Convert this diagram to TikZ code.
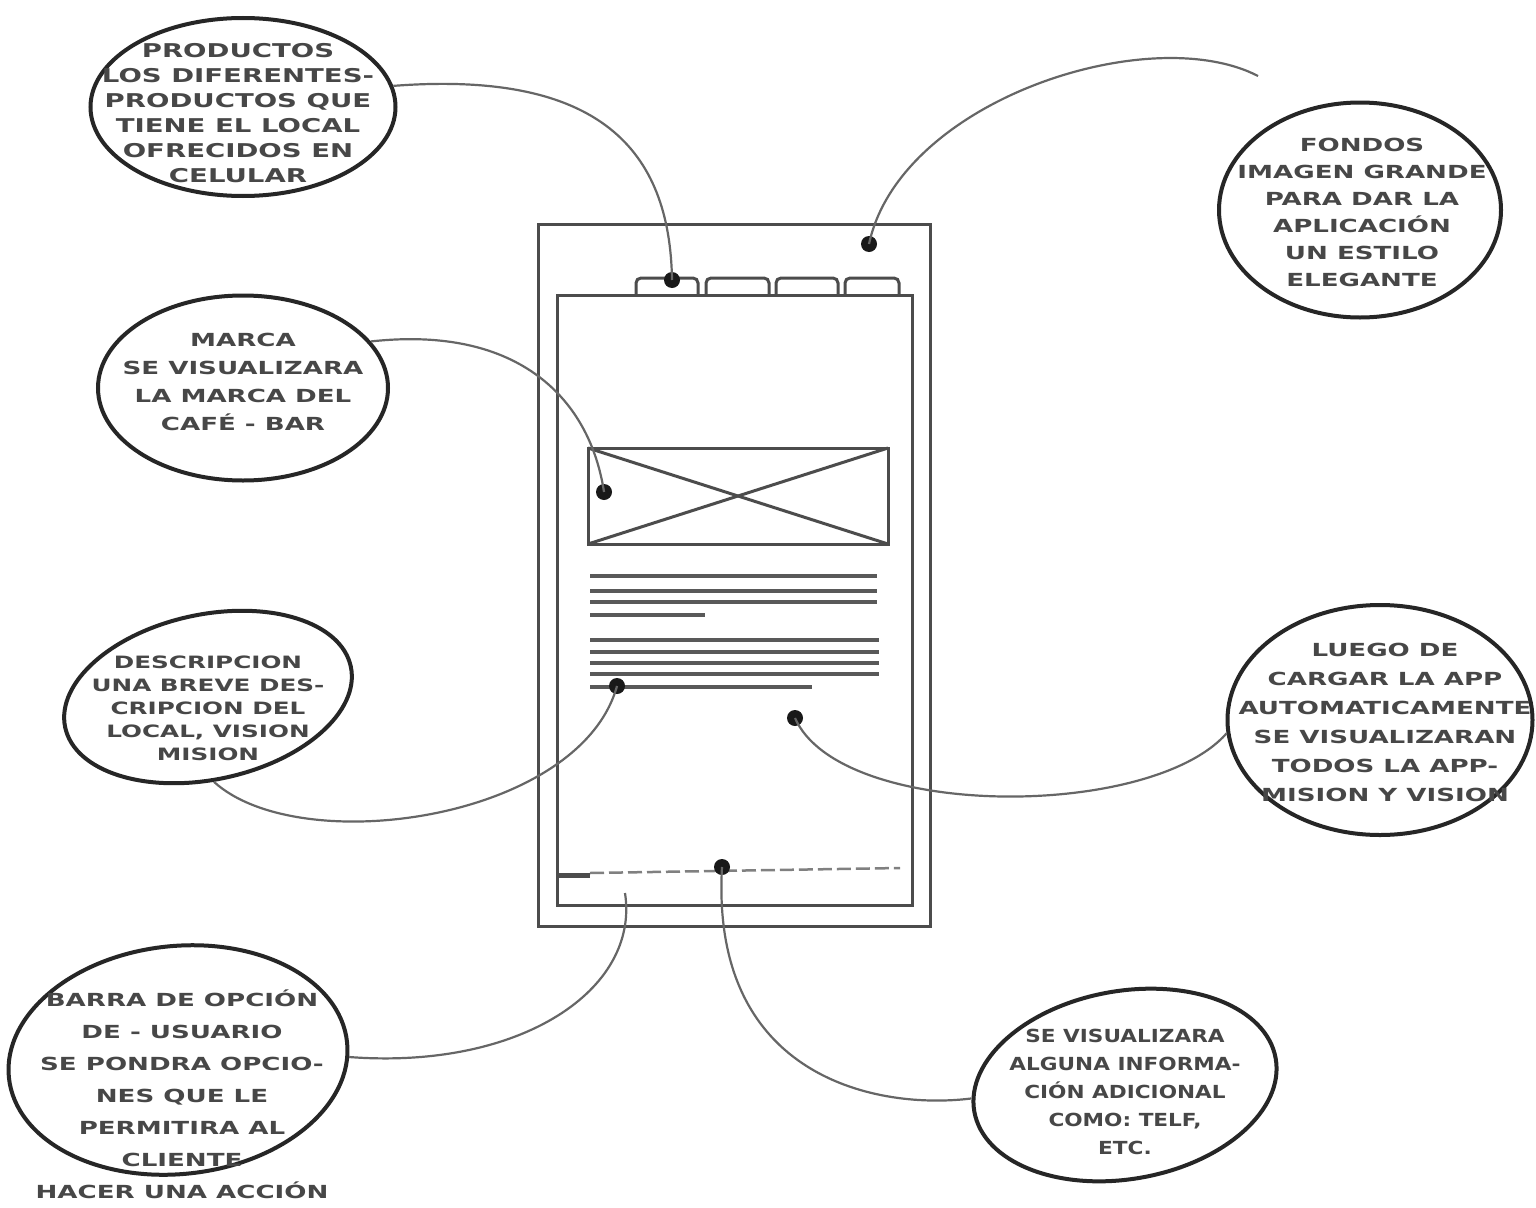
\documentclass[tikz,border=0pt]{standalone}
\usepackage{fontspec}
\newfontfamily\hand[FakeStretch=1.45]{DejaVu Sans Bold}
\newfontfamily\handn[FakeStretch=1.2]{DejaVu Sans Bold}
\usetikzlibrary{shapes.geometric}
\begin{document}
\begin{tikzpicture}[x=1pt,y=-1pt,
  bubble/.style={ellipse, draw=black!85, line width=4pt, inner sep=0pt},
  txt/.style={text=black!72, align=center, inner sep=0pt},
  dot/.style={circle, fill=black!90, inner sep=0pt, minimum size=16pt},
  wire/.style={draw=black!60, line width=2.2pt},
  phone/.style={draw=black!70, line width=3pt},
  bar/.style={draw=black!65, line width=4pt},
  tabbox/.style={draw=black!70, line width=3pt, rounded corners=5pt}]
\fill[white] (0,0) rectangle (1536,1207);
\useasboundingbox (0,0) rectangle (1536,1207);

% phone
\draw[phone] (538,224) rectangle (930,926);
\draw[phone] (557,295) rectangle (912,905);
\foreach \a/\b in {636/698,706/769,776/838,845/899}
  \draw[tabbox] (\a,295) -- (\a,278) -- (\b,278) -- (\b,295);
\draw[phone] (588,448) rectangle (888,544);
\draw[phone] (588,448) -- (888,544);
\draw[phone] (588,544) -- (888,448);
\foreach \y in {576,591,602} \draw[bar] (590,\y) -- (877,\y);
\draw[bar] (590,615) -- (705,615);
\foreach \y in {640,652,663,674} \draw[bar] (590,\y) -- (879,\y);
\draw[bar] (590,687) -- (812,687);
\draw[draw=black!70, line width=5pt] (558,875) -- (590,875);
\draw[draw=black!50, line width=2.5pt, dash pattern=on 14pt off 5pt] (590,873) -- (900,868);

% dots
\node[dot] (dtab) at (672,280) {};
\node[dot] (dfon) at (869,244) {};
\node[dot] (dimg) at (604,492) {};
\node[dot] (dtxt) at (617,686) {};
\node[dot] (dmid) at (795,718) {};
\node[dot] (dbot) at (722,867) {};
\coordinate (cbar) at (625,893);
\coordinate (cfon) at (1258,76);

% bubbles
\node[bubble, minimum width=305pt, minimum height=178pt] (prod) at (243,107) {};
\node[bubble, minimum width=282pt, minimum height=215pt] (fond) at (1360,210) {};
\node[bubble, minimum width=290pt, minimum height=185pt] (marca) at (243,388) {};
\node[bubble, minimum width=292pt, minimum height=165pt, rotate=12] (desc) at (208,697) {};
\node[bubble, minimum width=305pt, minimum height=230pt] (luego) at (1380,720) {};
\node[bubble, minimum width=340pt, minimum height=228pt, rotate=6] (barra) at (178,1060) {};
\node[bubble, minimum width=306pt, minimum height=188pt, rotate=10] (info) at (1125,1085) {};

% texts
\node[txt, font=\hand\fontsize{19}{25}\selectfont] (tprod) at (238,113)
  {PRODUCTOS\\LOS DIFERENTES-\\PRODUCTOS QUE\\TIENE EL LOCAL\\OFRECIDOS EN\\CELULAR};
\node[txt, font=\hand\fontsize{18}{27}\selectfont] (tfond) at (1362,212)
  {FONDOS\\IMAGEN GRANDE\\PARA DAR LA\\APLICACIÓN\\UN ESTILO\\ELEGANTE};
\node[txt, font=\hand\fontsize{18}{28}\selectfont] (tmarca) at (243,382)
  {MARCA\\SE VISUALIZARA\\LA MARCA DEL\\CAFÉ - BAR};
\node[txt, font=\hand\fontsize{17}{23}\selectfont] (tdesc) at (208,708)
  {DESCRIPCION\\UNA BREVE DES-\\CRIPCION DEL\\LOCAL, VISION\\MISION};
\node[txt, font=\hand\fontsize{18}{29}\selectfont] (tluego) at (1385,722)
  {LUEGO DE\\CARGAR LA APP\\AUTOMATICAMENTE\\SE VISUALIZARAN\\TODOS LA APP-\\MISION Y VISION};
\node[txt, font=\hand\fontsize{18}{32}\selectfont] (tbarra) at (182,1094)
  {BARRA DE OPCIÓN\\DE - USUARIO\\SE PONDRA OPCIO-\\NES QUE LE\\PERMITIRA AL\\CLIENTE\\HACER UNA ACCIÓN};
\node[txt, font=\handn\fontsize{18}{28}\selectfont] (tinfo) at (1125,1092)
  {SE VISUALIZARA\\ALGUNA INFORMA-\\CIÓN ADICIONAL\\COMO: TELF,\\ETC.};

% connectors
\draw[wire] (prod.8) .. controls (600,70) and (670,150) .. (dtab.center);
\draw[wire] (dfon.center) .. controls (900,100) and (1150,20) .. (cfon);
\draw[wire] (marca.20) .. controls (520,325) and (590,400) .. (dimg.center);
\draw[wire] (desc.262) .. controls (300,860) and (580,820) .. (dtxt.center);
\draw[wire] (dmid.center) .. controls (840,820) and (1150,820) .. (luego.185);
\draw[wire] (barra.355) .. controls (520,1070) and (640,990) .. (cbar);
\draw[wire] (dbot.center) .. controls (710,1080) and (880,1110) .. (info.175);
\end{tikzpicture}
\end{document}
